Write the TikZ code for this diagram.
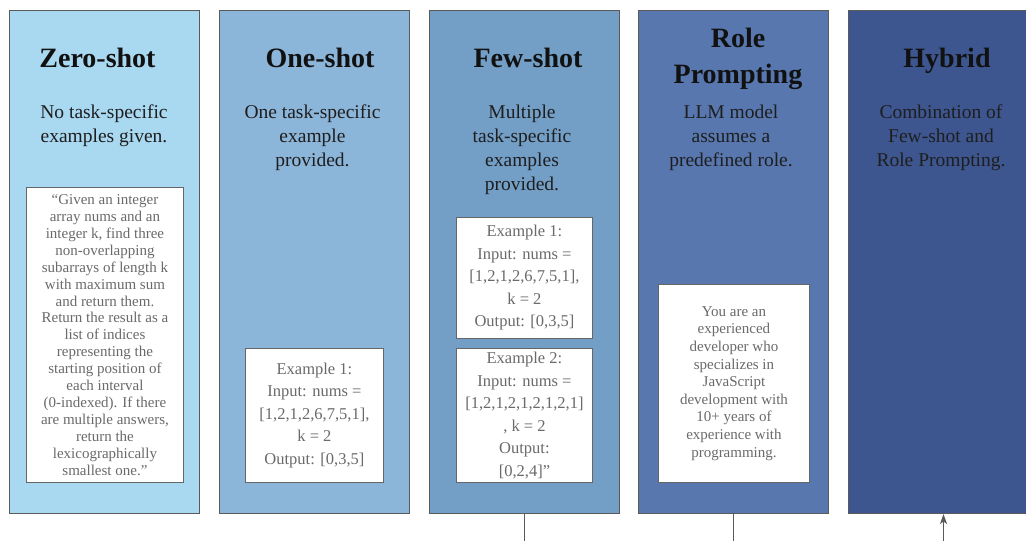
\documentclass[tikz,border=0pt]{standalone}
\usepackage{fontspec}
\setmainfont{Liberation Serif}
\usetikzlibrary{arrows.meta}

% column fills, from light to dark blue
\definecolor{colA}{HTML}{A9D8F1}
\definecolor{colB}{HTML}{8CB5DA}
\definecolor{colC}{HTML}{739FC7}
\definecolor{colD}{HTML}{5777AE}
\definecolor{colE}{HTML}{3D568F}
\definecolor{edgegray}{HTML}{5A5A5A}
\definecolor{cardedge}{HTML}{666666}
\definecolor{cardink}{HTML}{6A6A6A}
\definecolor{titleink}{HTML}{111111}
\definecolor{descink}{HTML}{1E1E1E}
\definecolor{lineink}{HTML}{5A5A5A}

\begin{document}
\begin{tikzpicture}[x=1pt,y=-1pt,
  column/.style={draw=edgegray, line width=1pt, minimum width=190pt,
    minimum height=503pt, inner sep=0pt, anchor=north west},
  % multi-line nodes sit on the baseline of their last line
  title/.style={font=\fontsize{28}{36}\selectfont\bfseries, text=titleink,
    align=center, anchor=base, inner sep=0pt},
  desc/.style={font=\fontsize{19.5}{24}\selectfont, text=descink,
    align=center, anchor=base, inner sep=0pt},
  card/.style={draw=cardedge, line width=0.9pt, fill=white, text=cardink,
    align=center, inner sep=0pt, anchor=north west},
  conn/.style={draw=lineink, line width=0.9pt}
]
\useasboundingbox (0,0) rectangle (1026,541);

% the five technique columns
\node[column, fill=colA] (c1) at (9,10) {};
\node[column, fill=colB] (c2) at (219,10) {};
\node[column, fill=colC] (c3) at (428.5,10) {};
\node[column, fill=colD] (c4) at (638,10) {};
\node[column, fill=colE] (c5) at (848,10) {};

% headings
\node[title] (t1) at (97.5,67) {Zero-shot};
\node[title] (t2) at (320,67) {One-shot};
\node[title] (t3) at (528,67) {Few-shot};
\node[title] (t4) at (738,83) {Role\\Prompting};
\node[title] (t5) at (947,67) {Hybrid};

% short descriptions
\node[desc] (d1) at (104,142) {No task-specific\\examples given.};
\node[desc] (d2) at (312.5,166) {One task-specific\\example\\provided.};
\node[desc] (d3) at (522,190) {Multiple\\task-specific\\examples\\provided.};
\node[desc] (d4) at (731,166) {LLM model\\assumes a\\predefined role.};
\node[desc] (d5) at (941,166) {Combination of\\Few-shot and\\Role Prompting.};

% prompt cards
\node[card, minimum width=157pt, minimum height=295pt,
  font=\fontsize{15}{16.9}\selectfont] (k1) at (26,187)
  {“Given an integer\\array nums and an\\integer k, find three\\non-overlapping\\subarrays of length k\\with maximum sum\\and return them.\\Return the result as a\\list of indices\\representing the\\starting position of\\each interval\\(0-indexed). If there\\are multiple answers,\\return the\\lexicographically\\smallest one.”};

\node[card, minimum width=138pt, minimum height=134pt,
  font=\fontsize{16.5}{22.5}\selectfont] (k2) at (245,348)
  {Example 1:\\Input: nums =\\{[1,2,1,2,6,7,5,1],}\\k = 2\\Output: [0,3,5]};

\node[card, minimum width=136pt, minimum height=121pt,
  font=\fontsize{16.5}{22.5}\selectfont] (k3a) at (456,217)
  {Example 1:\\Input: nums =\\{[1,2,1,2,6,7,5,1],}\\k = 2\\Output: [0,3,5]};

\node[card, minimum width=136pt, minimum height=134pt,
  font=\fontsize{16.5}{22.5}\selectfont] (k3b) at (456,348)
  {Example 2:\\Input: nums =\\{[1,2,1,2,1,2,1,2,1]}\\, k = 2\\Output:\\{[0,2,4]”}};

\node[card, minimum width=151pt, minimum height=198pt,
  font=\fontsize{15}{17.6}\selectfont] (k4) at (658,284)
  {You are an\\experienced\\developer who\\specializes in\\JavaScript\\development with\\10+ years of\\experience with\\programming.};

% connectors leaving the bottom edge
\path (c3.south) ++(0,28) coordinate (e3);
\path (c4.south) ++(0,28) coordinate (e4);
\path (c5.south) ++(0,28) coordinate (e5);
\draw[conn] (c3.south) -- (e3);
\draw[conn] (c4.south) -- (e4);
\draw[conn, -{Stealth[length=10pt, width=7pt, inset=2.5pt]}] (e5) -- (c5.south);
\end{tikzpicture}
\end{document}
